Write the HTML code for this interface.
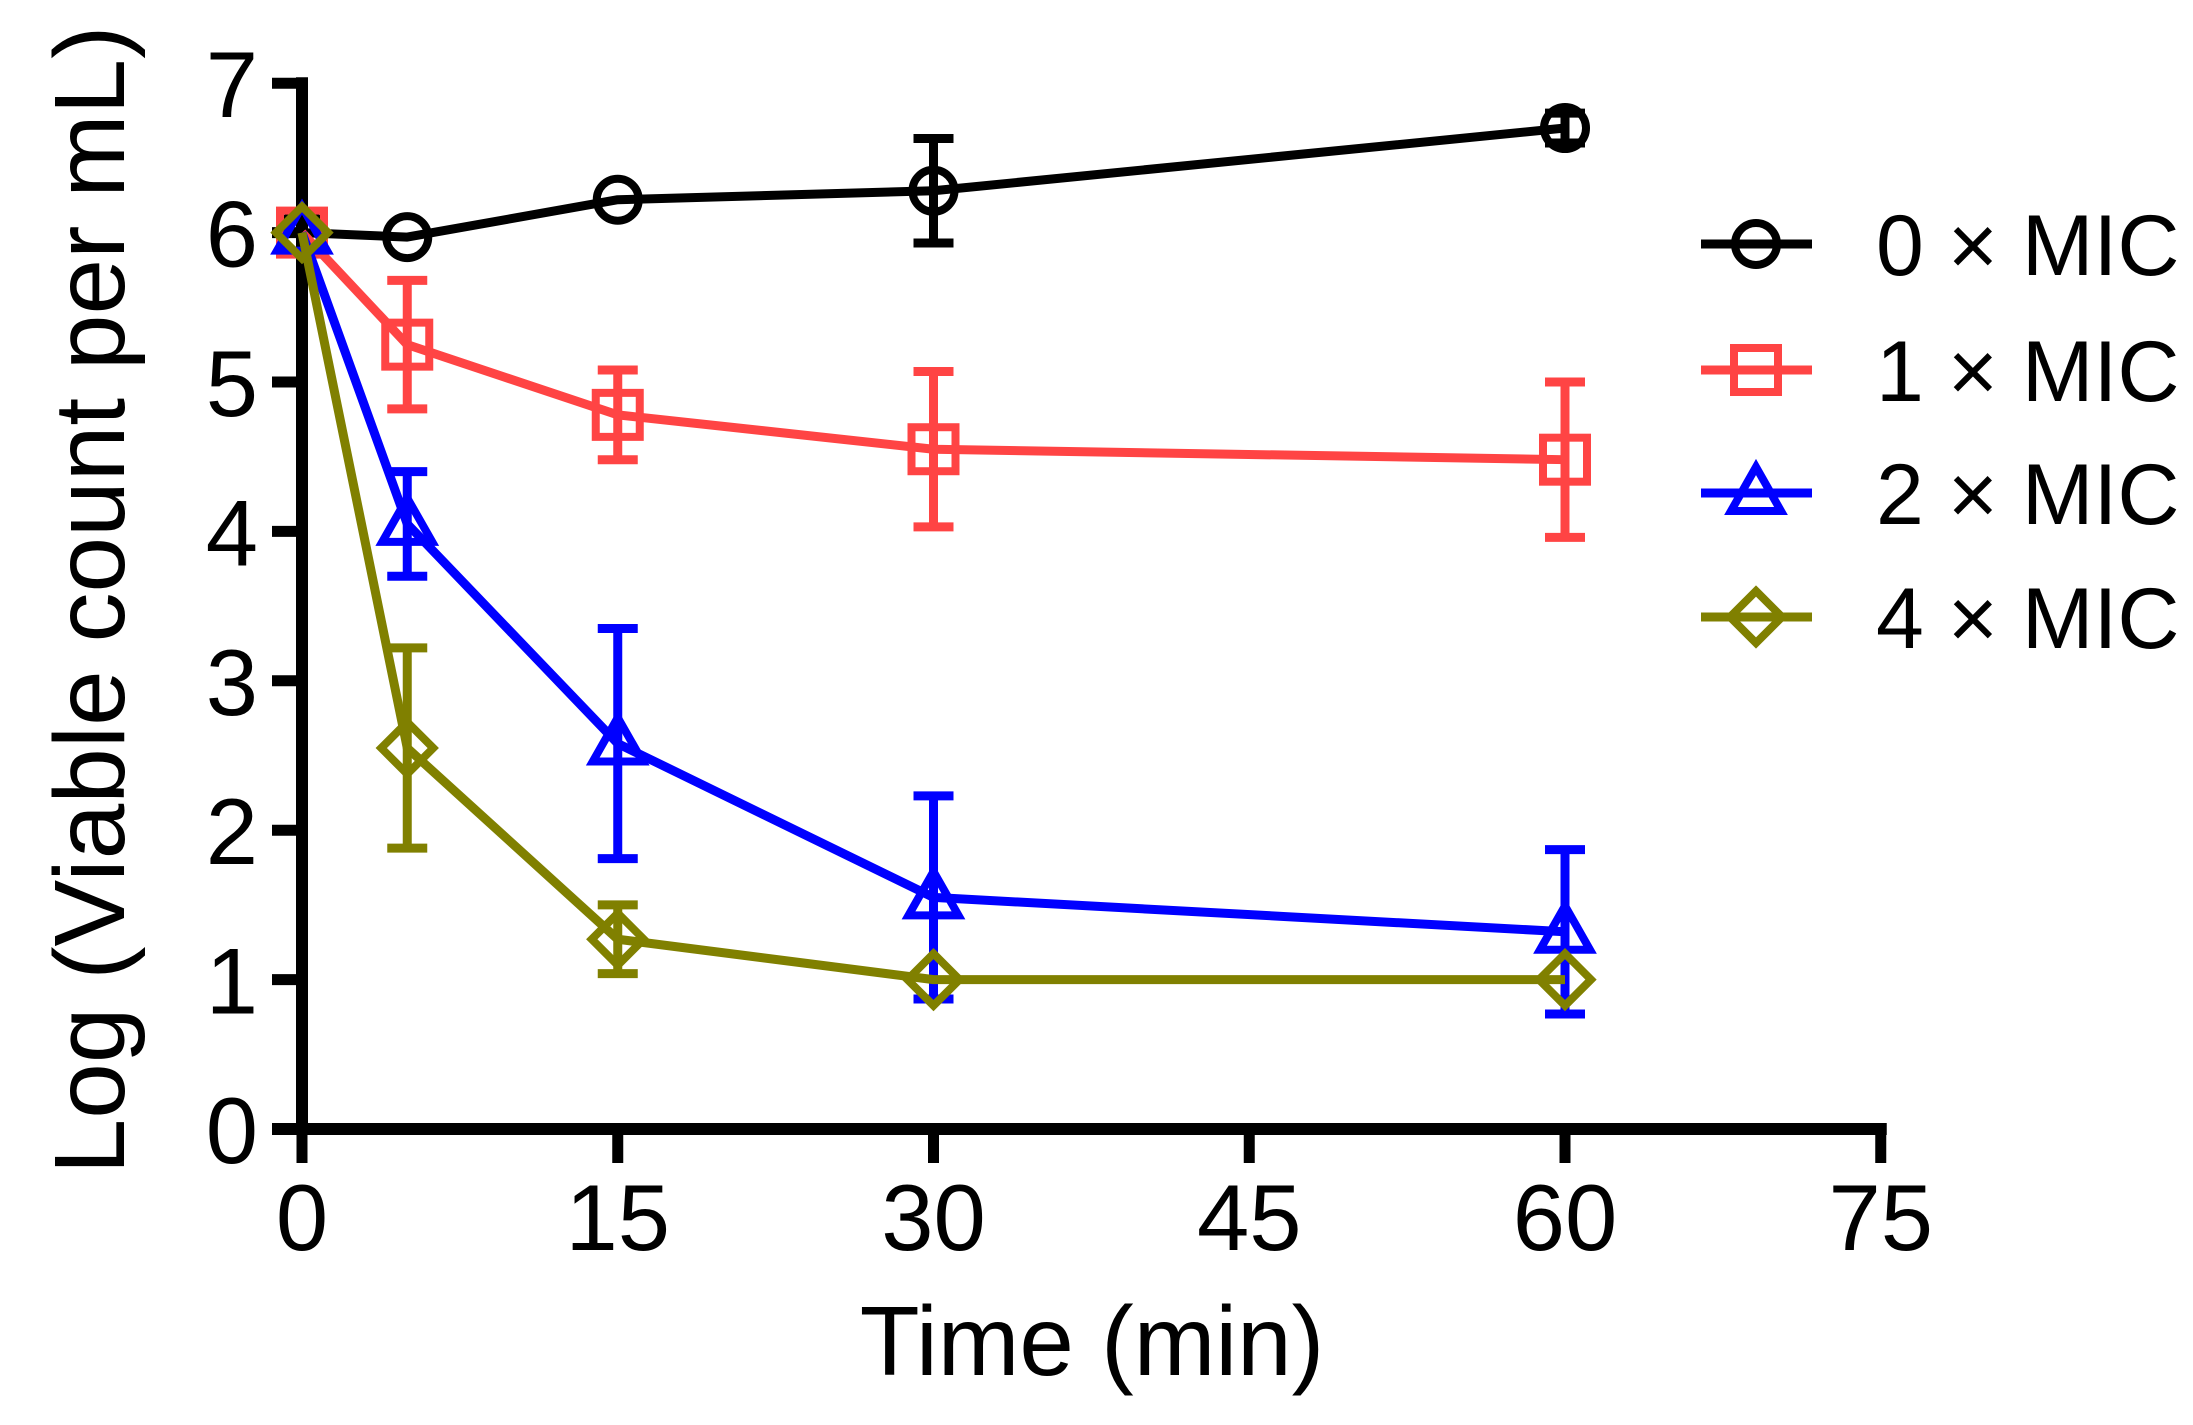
<!DOCTYPE html>
<html><head><meta charset="utf-8"><style>
html,body{margin:0;padding:0;background:#fff;}
svg{display:block;font-family:"Liberation Sans",Arial,sans-serif;}
</style></head><body>
<svg id="chart" width="2193" height="1425" viewBox="0 0 2193 1425" xmlns="http://www.w3.org/2000/svg"></svg>
<script>
const times = [0, 5, 15, 30, 60];
const seriesNames = ["0 × MIC", "1 × MIC", "2 × MIC", "4 × MIC"];
const s0 = [6.0, 5.97, 6.22, 6.28, 6.7];
const s1 = [6.0, 5.25, 4.78, 4.55, 4.48];
const s2 = [6.0, 4.05, 2.58, 1.55, 1.32];
const s3 = [6.0, 2.55, 1.27, 1.0, 1.0];
const e0 = [0, 0, 0, 0.35, 0.1];
const e1 = [0, 0.43, 0.3, 0.52, 0.52];
const e2 = [0, 0.35, 0.77, 0.68, 0.55];
const e3 = [0, 0.67, 0.23, 0, 0];
const xTicks = [0, 15, 30, 45, 60, 75];
const yTicks = [0, 1, 2, 3, 4, 5, 6, 7];

const NS = "http://www.w3.org/2000/svg";
const svg = document.getElementById("chart");
const X0 = 302, XPX = 21.05, Y0 = 1129, YPX = 149.4;
function xs(t){ return X0 + t * XPX; }
function ys(v){ return Y0 - v * YPX; }
function mk(tag, attrs, parent){
  const el = document.createElementNS(NS, tag);
  for (const k in attrs) el.setAttribute(k, attrs[k]);
  (parent || svg).appendChild(el);
  return el;
}
const colors = ["#000000", "#ff4444", "#0000ff", "#808000"];
const shapes = ["circle", "square", "triangle", "diamond"];
const vals = [s0, s1, s2, s3];
const errs = [e0, e1, e2, e3];

const axes = mk("g", {});


const yAxis = mk("line", {x1: X0, y1: ys(7) - 6, x2: X0, y2: Y0 + 6, stroke: "#000", "stroke-width": 12}, axes);


const xAxis = mk("line", {x1: X0 - 30, y1: Y0, x2: xs(75) + 6, y2: Y0, stroke: "#000", "stroke-width": 12}, axes);


yTicks.forEach(v => {
  const t = mk("line", {x1: X0 - 30, y1: ys(v), x2: X0, y2: ys(v), stroke: "#000", "stroke-width": 11}, axes);
  
  
  const l = mk("text", {x: 258, y: ys(v) + 34, "text-anchor": "end", "font-size": 94}, axes);
  l.textContent = v;
  
  
});
xTicks.forEach(v => {
  const t = mk("line", {x1: xs(v), y1: Y0, x2: xs(v), y2: Y0 + 34, stroke: "#000", "stroke-width": 11}, axes);
  
  
  const l = mk("text", {x: xs(v), y: 1250, "text-anchor": "middle", "font-size": 94}, axes);
  l.textContent = v;
  
  
});
const xt = mk("text", {x: 1092, y: 1375, "text-anchor": "middle", "font-size": 98});
xt.textContent = "Time (min)";


const yt = mk("text", {x: 0, y: 0, "text-anchor": "middle", "font-size": 100, transform: "translate(124,600) rotate(-90)"});
yt.textContent = "Log (Viable count per mL)";



function marker(shape, cx, cy, color, parent){
  let el;
  if (shape === "circle") el = mk("circle", {cx: cx, cy: cy, r: 21, fill: "none", stroke: color, "stroke-width": 8}, parent);
  else if (shape === "square") el = mk("rect", {x: cx - 22, y: cy - 22, width: 44, height: 44, fill: "none", stroke: color, "stroke-width": 8}, parent);
  else if (shape === "triangle") el = mk("polygon", {points: `${cx},${cy-26} ${cx+25},${cy+18} ${cx-25},${cy+18}`, fill: "none", stroke: color, "stroke-width": 8}, parent);
  else el = mk("polygon", {points: `${cx},${cy-26} ${cx+26},${cy} ${cx},${cy+26} ${cx-26},${cy}`, fill: "none", stroke: color, "stroke-width": 8}, parent);
  return el;
}

vals.forEach((arr, si) => {
  const g = mk("g", {});
  
  
  const c = colors[si];
  arr.forEach((v, i) => {
    const e = errs[si][i];
    if (e <= 0) return;
    const x = xs(times[i]);
    const eb = mk("path", {d: `M${x},${ys(v+e)}V${ys(v-e)}M${x-20},${ys(v+e)}H${x+20}M${x-20},${ys(v-e)}H${x+20}`, stroke: c, "stroke-width": 9, fill: "none"}, g);
    
    
  });
  const pts = arr.map((v, i) => xs(times[i]) + "," + ys(v)).join(" ");
  const line = mk("polyline", {points: pts, fill: "none", stroke: c, "stroke-width": 9, "stroke-linejoin": "round"}, g);
  
  
  arr.forEach((v, i) => {
    const m = marker(shapes[si], xs(times[i]), ys(v), c, g);
    
    
  });
});

const legY = [244, 370, 493, 617];
const leg = mk("g", {});


seriesNames.forEach((n, i) => {
  const g = mk("g", {}, leg);
  
  
  const c = colors[i];
  mk("line", {x1: 1701, y1: legY[i], x2: 1812, y2: legY[i], stroke: c, "stroke-width": 9}, g);
  marker(shapes[i], 1756, legY[i], c, g);
  const t = mk("text", {x: 1876, y: legY[i] + 31, "font-size": 86}, g);
  t.textContent = n;
});
</script>
</body></html>
